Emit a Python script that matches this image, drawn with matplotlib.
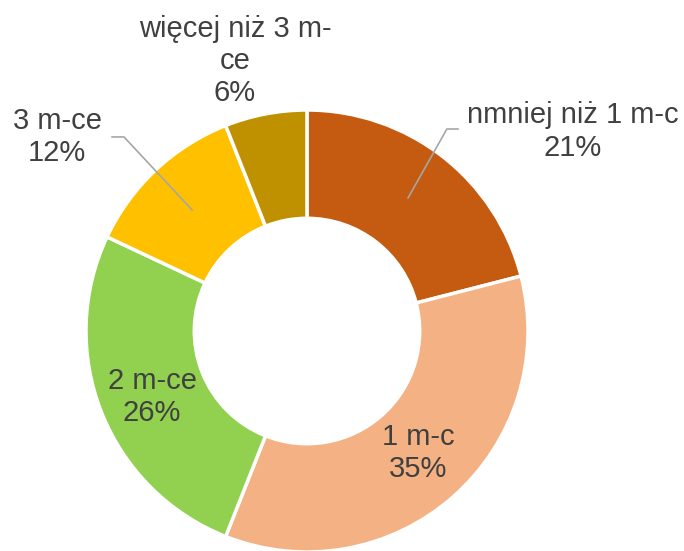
import matplotlib
matplotlib.use('Agg')
import matplotlib.pyplot as plt

plt.rcParams['font.family'] = ['Liberation Sans', 'DejaVu Sans']

kategorie = ['nmniej niż 1 m-c', '1 m-c', '2 m-ce', '3 m-ce', 'więcej niż 3 m-\nce']
procenty = [21, 35, 26, 12, 6]
kolory = ['#C55A11', '#F4B183', '#92D050', '#FFC000', '#BF9000']

fig = plt.figure(figsize=(6.84, 5.51), dpi=100)
# pie center ~ (307, 331) px, radius ~221 px
ax = fig.add_axes([86 / 684, -1 / 551, 442 / 684, 442 / 551])
ax.pie(procenty, colors=kolory, startangle=90, counterclock=False,
       radius=1.0, wedgeprops=dict(width=0.49, edgecolor='white', linewidth=2.5))
ax.set_xlim(-1, 1)
ax.set_ylim(-1, 1)
ax.set_aspect('equal')
ax.axis('off')

# label positions in data units (radius = 1)
pozycje = [(1.204, 0.903), (0.502, -0.552), (-0.701, -0.299), (-1.131, 0.878), (-0.326, 1.222)]
for nazwa, p, (x, y) in zip(kategorie, procenty, pozycje):
    ax.text(x, y, f'{nazwa}\n{p}%', ha='center', va='center', fontsize=21,
            color='#404040', linespacing=1.2)

# leader lines
ax.plot([0.683, 0.633, 0.457], [0.914, 0.914, 0.602], color='#A6A6A6', lw=1.2, clip_on=False)
ax.plot([-0.882, -0.828, -0.520], [0.878, 0.878, 0.548], color='#A6A6A6', lw=1.2, clip_on=False)

fig.savefig('out.png', dpi=100)
